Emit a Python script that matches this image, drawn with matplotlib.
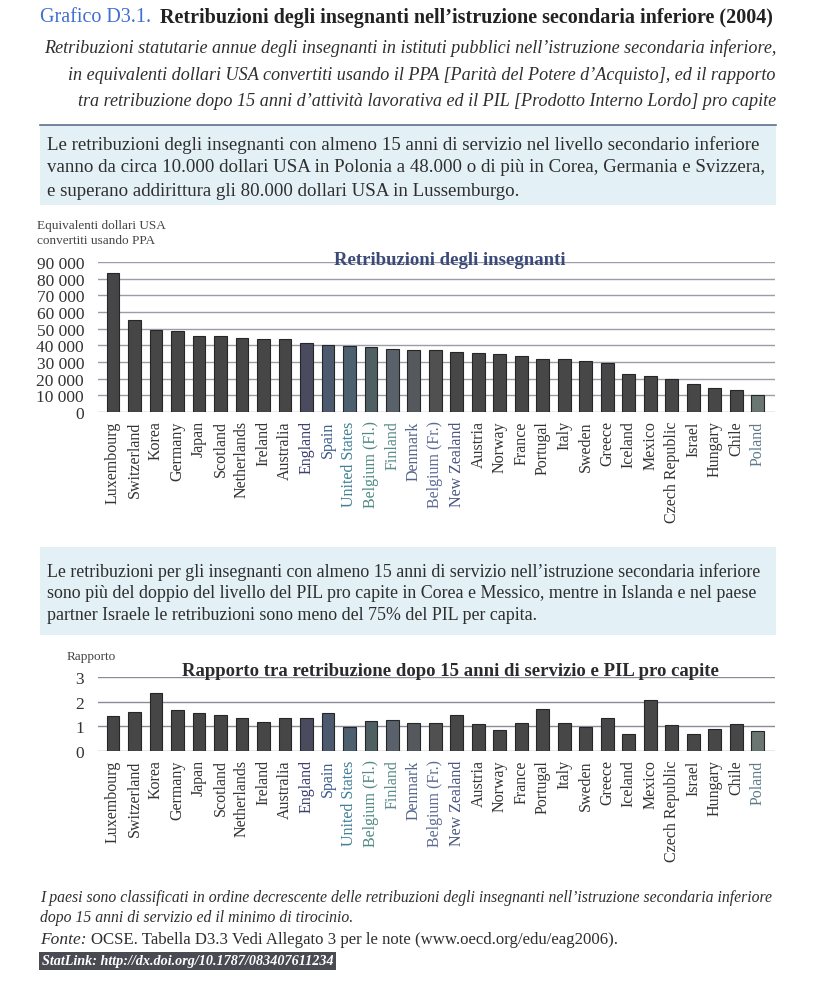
import matplotlib.pyplot as plt
import matplotlib.patches as mpatches
from matplotlib.ticker import FuncFormatter
import numpy as np

plt.rcParams['font.family'] = ['Liberation Serif', 'DejaVu Serif']

countries = ['Luxembourg', 'Switzerland', 'Korea', 'Germany', 'Japan', 'Scotland',
             'Netherlands', 'Ireland', 'Australia', 'England', 'Spain', 'United States',
             'Belgium (Fl.)', 'Finland', 'Denmark', 'Belgium (Fr.)', 'New Zealand',
             'Austria', 'Norway', 'France', 'Portugal', 'Italy', 'Sweden', 'Greece',
             'Iceland', 'Mexico', 'Czech Republic', 'Israel', 'Hungary', 'Chile', 'Poland']

# retribuzioni dopo 15 anni (USD PPA)
salary = [83600, 55400, 49200, 48400, 45800, 45600, 44600, 44000, 43800, 41600,
          40200, 39600, 39200, 37600, 37200, 37000, 35800, 35600, 35000, 33800,
          31700, 31600, 30500, 29400, 22800, 21400, 20000, 17100, 14700, 13000, 10100]

# rapporto retribuzione / PIL pro capite
ratio = [1.40, 1.59, 2.34, 1.66, 1.53, 1.45, 1.32, 1.18, 1.32, 1.32,
         1.55, 0.97, 1.22, 1.26, 1.14, 1.15, 1.45, 1.08, 0.87, 1.13,
         1.72, 1.13, 0.98, 1.33, 0.68, 2.08, 1.05, 0.70, 0.88, 1.08, 0.80]

label_colors = ['#333333'] * 9 + ['#3c3f6e', '#3c5a8c', '#3f7f95', '#4f8a82',
                                  '#5a8a8a', '#51658a', '#5d6a95', '#4a5580'] + \
               ['#333333'] * 13 + ['#5e7a8a']
bar_colors = ['#464646'] * 9 + ['#4b4b5f', '#4b5a6e', '#4d6070', '#4f6062',
                                '#59616a', '#55595e', '#505050'] + \
             ['#474747'] * 14 + ['#6b7673']

fig = plt.figure(figsize=(8.18, 10.04), dpi=100)
W, H = 818.0, 1004.0


def fx(px):
    return px / W


def fy(py):
    return 1 - py / H


dark = '#2e2e2e'

# intestazione
fig.text(fx(40), fy(18), 'Grafico D3.1.', color='#3f6fd2', fontsize=14.5, va='center')
fig.text(fx(160), fy(18),
         'Retribuzioni degli insegnanti nell\u2019istruzione secondaria inferiore (2004)',
         color='#222222', fontsize=14.5, fontweight='bold', va='center')
sub = ['Retribuzioni statutarie annue degli insegnanti in istituti pubblici nell\u2019istruzione secondaria inferiore,',
       'in equivalenti dollari USA convertiti usando il PPA [Parit\u00e0 del Potere d\u2019Acquisto], ed il rapporto',
       'tra retribuzione dopo 15 anni d\u2019attivit\u00e0 lavorativa ed il PIL [Prodotto Interno Lordo] pro capite']
for i, s in enumerate(sub):
    fig.text(fx(776), fy(48 + i * 27), s, ha='right', va='center', fontsize=13.1,
             style='italic', color=dark)

fig.add_artist(plt.Line2D([fx(40), fx(776)], [fy(126), fy(126)], color='#5d6f8a', lw=1.2))
fig.add_artist(mpatches.Rectangle((fx(40), fy(206)), fx(736), 80 / H,
                                  facecolor='#e3f0f6', edgecolor='none'))
box1 = ['Le retribuzioni degli insegnanti con almeno 15 anni di servizio nel livello secondario inferiore',
        'vanno da circa 10.000 dollari USA in Polonia a 48.000 o di pi\u00f9 in Corea, Germania e Svizzera,',
        'e superano addirittura gli 80.000 dollari USA in Lussemburgo.']
for i, s in enumerate(box1):
    fig.text(fx(47), fy(145 + i * 23), s, va='center', fontsize=13.6, color=dark)

box2 = ['Le retribuzioni per gli insegnanti con almeno 15 anni di servizio nell\u2019istruzione secondaria inferiore',
        'sono pi\u00f9 del doppio del livello del PIL pro capite in Corea e Messico, mentre in Islanda e nel paese',
        'partner Israele le retribuzioni sono meno del 75% del PIL per capita.']
fig.add_artist(mpatches.Rectangle((fx(40), fy(636)), fx(736), 88 / H,
                                  facecolor='#e3f0f6', edgecolor='none'))
for i, s in enumerate(box2):
    fig.text(fx(47), fy(572 + i * 22), s, va='center', fontsize=12.9, color=dark)

x = np.arange(len(countries))
left, right = fx(98), fx(775)

# grafico retribuzioni
ax1 = fig.add_axes([left, fy(413), right - left, 150 / H])
ax1.bar(x, salary, width=0.6, color=bar_colors, edgecolor='#262626', lw=0.8, zorder=3)
ax1.set_ylim(0, 90000)
ax1.set_yticks(np.arange(0, 90001, 10000))
ax1.yaxis.set_major_formatter(FuncFormatter(lambda v, p: f'{int(v):,}'.replace(',', ' ')))
ax1.grid(axis='y', color='#9b9bab', lw=1, zorder=0)
ax1.set_title('Retribuzioni degli insegnanti', fontsize=13.5, fontweight='bold',
              color='#3b4a78', x=0.52, y=0.99, pad=0)
fig.text(fx(37), fy(226), 'Equivalenti dollari USA', fontsize=9.5, color='#444444', va='center')
fig.text(fx(37), fy(241), 'convertiti usando PPA', fontsize=9.5, color='#444444', va='center')

# grafico rapporto
ax2 = fig.add_axes([left, fy(752), right - left, 74 / H])
ax2.bar(x, ratio, width=0.6, color=bar_colors, edgecolor='#262626', lw=0.8, zorder=3)
ax2.set_ylim(0, 3)
ax2.set_yticks([0, 1, 2, 3])
ax2.grid(axis='y', color='#8a8a9a', lw=1, zorder=0)
ax2.set_title('Rapporto tra retribuzione dopo 15 anni di servizio e PIL pro capite',
              fontsize=13.5, fontweight='bold', color='#2b2b2b', x=0.52, y=1.03, pad=0)
fig.text(fx(67), fy(657), 'Rapporto', fontsize=9.5, color='#444444', va='center')

for ax in (ax1, ax2):
    ax.set_xlim(-0.7, len(countries) - 0.2)
    ax.set_xticks(x)
    ax.set_xticklabels(countries, rotation=90, fontsize=11.5)
    for lab, c in zip(ax.get_xticklabels(), label_colors):
        lab.set_color(c)
    ax.tick_params(axis='both', length=0, pad=6)
    ax.tick_params(axis='y', labelsize=12.5, labelcolor='#333333', pad=10)
    for sp in ax.spines.values():
        sp.set_visible(False)
    ax.set_facecolor('none')

# note
fig.text(fx(40), fy(898),
         'I paesi sono classificati in ordine decrescente delle retribuzioni degli insegnanti nell\u2019istruzione secondaria inferiore',
         fontsize=11.3, style='italic', color=dark, va='center')
fig.text(fx(40), fy(918), 'dopo 15 anni di servizio ed il minimo di tirocinio.',
         fontsize=11.3, style='italic', color=dark, va='center')
fig.text(fx(40), fy(940), 'Fonte:', fontsize=12.5, style='italic', color=dark, va='center')
fig.text(fx(91), fy(940),
         'OCSE. Tabella D3.3 Vedi Allegato 3 per le note (www.oecd.org/edu/eag2006).',
         fontsize=12.1, color=dark, va='center')
fig.text(fx(42), fy(962), 'StatLink: http://dx.doi.org/10.1787/083407611234', fontsize=10.2,
         style='italic', fontweight='bold', color='white', va='center',
         bbox=dict(boxstyle='square,pad=0.2', facecolor='#4a4a52', edgecolor='none'))

fig.savefig('out.png', dpi=100, facecolor='white')
